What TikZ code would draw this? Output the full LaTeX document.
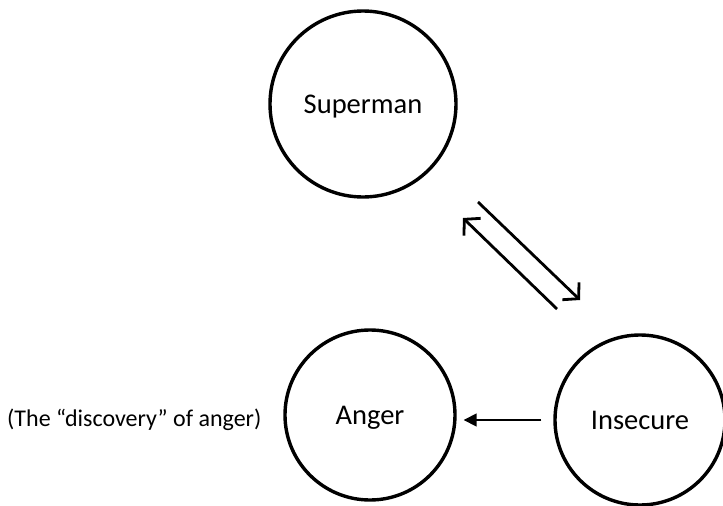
\documentclass[tikz,border=0pt]{standalone}
\usepackage{fontspec}
\setmainfont{Carlito}
\usetikzlibrary{arrows.meta}

\begin{document}
\begin{tikzpicture}[x=1pt,y=-1pt,
    state/.style={draw,circle,line width=3.4pt,inner sep=0pt,text depth=0pt,font=\fontsize{28.5}{34}\selectfont},
    flow/.style={line width=2.8pt,-{Straight Barb[length=11pt,width=24pt,line width=2.8pt]}},
    push/.style={line width=1.6pt,-{Triangle[length=13pt,width=13pt]}}]
        % frame of the page
        \useasboundingbox (0,0) rectangle (723,506);
        % the three states
        \node[state,minimum size=186pt] (sup) at (363,104) {Superman};
        \node[state,minimum size=170pt] (ang) at (370,415) {Anger};
        \node[state,minimum size=170pt] (ins) at (640,420) {Insecure};
        \node[anchor=west,inner sep=0pt,font=\fontsize{24}{29}\selectfont] (note) at (7,420) {(The “discovery” of anger)};
        % back and forth between Superman and Insecure
        \coordinate (s1) at (478,202);
        \coordinate (i1) at (580,300);
        \coordinate (i2) at (557,309);
        \coordinate (s2) at (463,218);
        \draw[flow] (s1) -- (i1);
        \draw[flow] (i2) -- (s2);
        % Insecure leads to Anger
        \draw[push] ([xshift=-12pt]ins.west) -- ([xshift=7pt]ang.east |- ins.west);
\end{tikzpicture}
\end{document}
